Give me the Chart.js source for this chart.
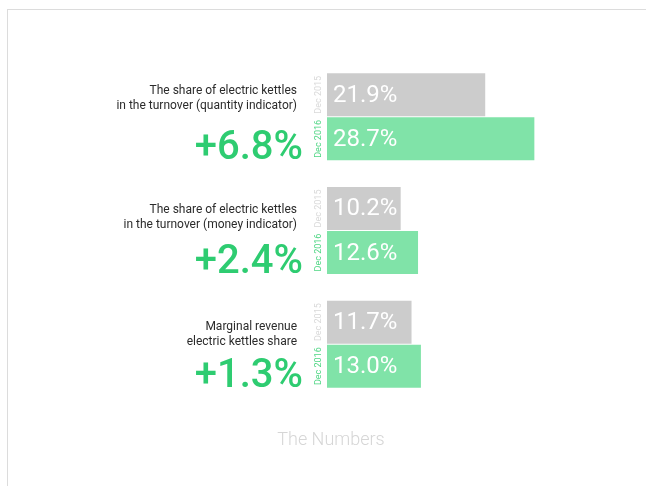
<!DOCTYPE html>
<html>
<head>
<meta charset="utf-8">
<script src="https://cdn.jsdelivr.net/npm/chart.js@4.4.1/dist/chart.umd.min.js"></script>
<style>
  body { margin: 0; background: #fff; }
  #wrap { position: relative; width: 646px; height: 486px; }
  #frame { position: absolute; left: 7px; top: 9px; right: 0; bottom: 0; border-top: 1px solid #dcdcdc; border-left: 1px solid #dcdcdc; }
  canvas { position: absolute; left: 0; top: 0; }
</style>
</head>
<body>
<div id="wrap">
  <div id="frame"></div>
  <canvas id="myChart" width="646" height="486"></canvas>
</div>
<script>
const categories = [
  ['The share of electric kettles', 'in the turnover (quantity indicator)'],
  ['The share of electric kettles', 'in the turnover (money indicator)'],
  ['Marginal revenue', 'electric kettles share']
];
const seriesNames = ['Dec 2015', 'Dec 2016'];
const dec2015 = [21.9, 10.2, 11.7];
const dec2016 = [28.7, 12.6, 13.0];
const changes = ['+6.8%', '+2.4%', '+1.3%'];
const chartTitle = 'The Numbers';

const labelsPlugin = {
  id: 'labels',
  afterDatasetsDraw(chart) {
    const ctx = chart.ctx;
    const lineOffsets = [21, 26, 29];
    ctx.save();

    chart.data.datasets.forEach((ds, di) => {
      const meta = chart.getDatasetMeta(di);
      meta.data.forEach((bar, i) => {
        // value inside bar
        ctx.fillStyle = '#ffffff';
        ctx.font = '24px Roboto';
        ctx.textAlign = 'left';
        ctx.textBaseline = 'middle';
        ctx.fillText(ds.data[i].toFixed(1) + '%', bar.base + 6, bar.y + 1);

        // rotated series name
        ctx.save();
        ctx.translate(bar.base - 8, bar.y);
        ctx.rotate(-Math.PI / 2);
        ctx.font = '9px Roboto';
        ctx.textAlign = 'center';
        ctx.textBaseline = 'middle';
        ctx.fillStyle = di === 0 ? '#d9d9d9' : '#4fd684';
        ctx.fillText(ds.label, 0, 0);
        ctx.restore();
      });
    });

    const top = chart.getDatasetMeta(0).data;
    const bottom = chart.getDatasetMeta(1).data;
    categories.forEach((lines, i) => {
      const barTop = top[i].y - top[i].height / 2;
      const barBottom = bottom[i].y + bottom[i].height / 2;
      ctx.fillStyle = '#2b2b2b';
      ctx.font = '12px Roboto';
      ctx.textAlign = 'right';
      ctx.textBaseline = 'alphabetic';
      lines.forEach((line, j) => {
        ctx.fillText(line, 297, barTop + lineOffsets[i] + j * 15);
      });

      ctx.fillStyle = '#2ecc71';
      ctx.font = '500 40px Roboto';
      ctx.fillText(changes[i], 303, barBottom - 1);
    });

    ctx.fillStyle = '#d6d6d6';
    ctx.font = '300 18px Roboto';
    ctx.textAlign = 'center';
    ctx.fillText(chartTitle, 331, 445);
    ctx.restore();
  }
};

const ctx = document.getElementById('myChart').getContext('2d');

const myChart = new Chart(ctx, {
  type: 'bar',
  data: {
    labels: categories,
    datasets: [{
      label: seriesNames[0],
      data: dec2015,
      backgroundColor: '#cccccc',
      borderWidth: 0
    }, {
      label: seriesNames[1],
      data: dec2016,
      backgroundColor: '#80e3a8',
      borderWidth: 0
    }]
  },
  options: {
    indexAxis: 'y',
    responsive: false,
    animation: false,
    categoryPercentage: 0.775,
    barPercentage: 0.977,
    scales: {
      x: { display: false, min: 0, max: 40 },
      y: { display: false }
    },
    plugins: {
      legend: { display: false },
      tooltip: { enabled: false }
    },
    layout: {
      padding: { left: 327, right: 30, top: 60, bottom: 85 }
    }
  },
  plugins: [labelsPlugin]
});
</script>
</body>
</html>
